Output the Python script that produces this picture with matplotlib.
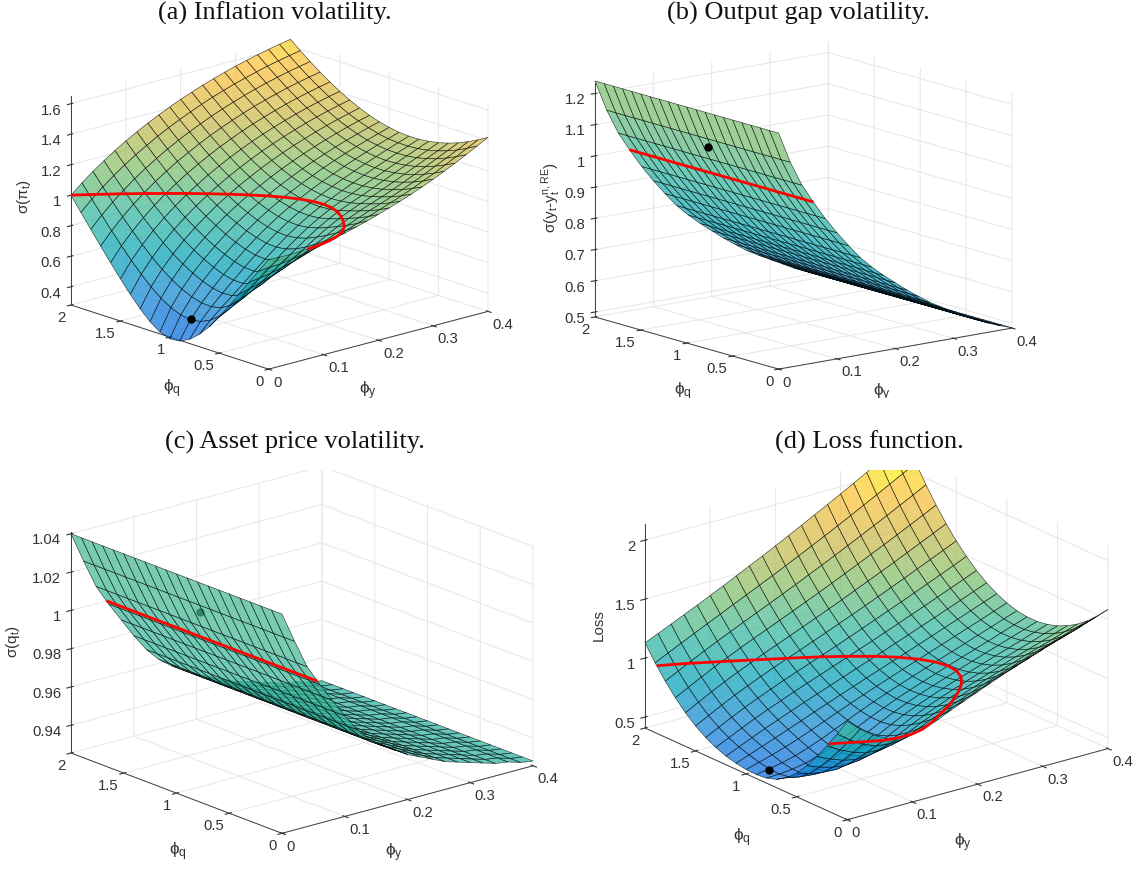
import numpy as np, matplotlib
matplotlib.use('Agg')
import matplotlib.pyplot as plt
from matplotlib.colors import LinearSegmentedColormap
from matplotlib.patches import Rectangle
from matplotlib.transforms import ScaledTranslation
from mpl_toolkits.mplot3d import proj3d

phi_y = [0, .02, .04, .06, .08, .1, .12, .14, .16, .18, .2, .22, .24, .26, .28, .3, .32, .34, .36, .38, .4]
phi_q = [0, .1, .2, .3, .4, .5, .6, .7, .8, .9, 1, 1.1, 1.2, 1.3, 1.4, 1.5, 1.6, 1.7, 1.8, 1.9, 2]

# inflation volatility x 1000: rows phi_q, columns phi_y
inflation_vol = [
 [998,995,994,997,1003,1013,1026,1042,1061,1082,1105,1129,1154,1181,1210,1241,1274,1309,1345,1383,1421],
 [903,907,913,922,935,951,970,992,1018,1044,1070,1096,1122,1149,1178,1209,1241,1276,1311,1347,1384],
 [807,817,830,846,866,890,917,947,979,1011,1041,1069,1095,1122,1150,1181,1213,1247,1281,1315,1351],
 [709,727,747,771,798,830,866,904,943,981,1016,1046,1073,1100,1128,1158,1190,1222,1255,1289,1322],
 [611,637,666,697,734,774,818,864,910,954,992,1025,1054,1081,1110,1140,1171,1203,1235,1267,1299],
 [517,555,592,633,678,727,779,831,882,930,971,1007,1038,1067,1097,1128,1159,1190,1220,1251,1281],
 [432,485,535,585,638,695,752,809,863,913,956,994,1028,1059,1090,1121,1151,1182,1211,1240,1269],
 [361,435,498,558,619,680,741,800,855,905,950,989,1024,1057,1089,1120,1150,1179,1208,1235,1262],
 [307,405,483,553,619,684,746,805,859,909,953,992,1029,1063,1095,1125,1155,1183,1210,1236,1261],
 [275,396,487,565,635,701,763,821,873,921,965,1004,1041,1074,1106,1136,1165,1192,1218,1242,1265],
 [269,406,506,589,662,728,788,844,895,942,984,1023,1059,1092,1124,1153,1181,1207,1231,1254,1276],
 [292,433,536,621,694,760,820,874,923,968,1010,1048,1083,1116,1147,1175,1202,1227,1250,1272,1292],
 [339,474,576,660,733,797,856,908,956,1001,1041,1078,1113,1145,1175,1202,1228,1252,1274,1295,1313],
 [402,527,624,706,777,840,896,948,995,1038,1077,1114,1148,1179,1208,1234,1259,1282,1303,1322,1340],
 [476,589,680,758,827,887,942,992,1038,1080,1118,1154,1187,1217,1245,1271,1295,1317,1337,1355,1372],
 [557,658,743,817,882,940,993,1041,1086,1126,1164,1198,1230,1259,1286,1311,1334,1355,1374,1392,1407],
 [641,733,811,880,942,998,1048,1095,1137,1176,1213,1246,1277,1305,1331,1355,1378,1398,1416,1433,1448],
 [729,811,883,948,1006,1059,1107,1152,1192,1230,1265,1297,1327,1354,1380,1403,1424,1444,1461,1477,1492],
 [818,892,959,1019,1074,1124,1169,1212,1251,1287,1320,1351,1380,1406,1431,1453,1474,1493,1510,1525,1539],
 [908,976,1037,1093,1144,1191,1234,1275,1312,1346,1378,1408,1436,1461,1485,1506,1526,1545,1561,1576,1590],
 [1000,1062,1118,1169,1217,1261,1302,1340,1375,1408,1439,1467,1494,1518,1541,1562,1581,1599,1615,1630,1643],
]
# loss function x 1000: rows phi_q, columns phi_y
loss_values = [
 [1242,1146,1065,1005,985,986,1007,1048,1098,1144,1190,1235,1280,1320,1360,1400,1440,1475,1510,1550,1587],
 [1094,1015,950,903,892,898,923,964,1014,1059,1104,1148,1192,1231,1270,1309,1348,1383,1418,1457,1494],
 [956,892,841,806,802,816,845,889,939,985,1029,1072,1115,1154,1192,1231,1269,1304,1339,1377,1414],
 [827,776,735,711,716,737,772,820,872,919,964,1008,1050,1089,1127,1165,1203,1238,1273,1311,1347],
 [710,668,637,623,635,664,707,759,815,865,911,955,997,1035,1073,1111,1149,1184,1220,1257,1294],
 [608,576,554,548,568,604,653,711,769,821,869,913,955,994,1032,1070,1108,1143,1179,1217,1253],
 [529,507,495,498,524,566,619,679,738,792,840,884,926,965,1003,1041,1079,1115,1152,1190,1227],
 [477,467,466,478,509,553,607,666,724,776,824,868,909,948,987,1025,1063,1100,1137,1175,1213],
 [449,453,464,485,519,564,616,671,725,774,820,863,904,943,982,1021,1059,1097,1136,1175,1213],
 [440,459,481,510,548,591,640,690,739,785,829,870,911,951,990,1029,1068,1108,1147,1187,1226],
 [444,475,508,544,584,627,672,718,763,806,848,889,930,970,1010,1050,1090,1131,1171,1212,1253],
 [458,499,540,582,624,667,711,753,796,837,879,920,960,1001,1042,1083,1125,1166,1208,1250,1293],
 [480,528,576,623,667,711,754,796,837,878,920,961,1002,1044,1086,1129,1171,1215,1258,1302,1346],
 [514,567,619,669,716,761,805,847,888,930,972,1014,1056,1099,1143,1187,1231,1276,1321,1366,1412],
 [560,616,671,724,773,819,864,907,949,991,1034,1078,1122,1167,1212,1257,1303,1350,1397,1444,1492],
 [619,677,734,789,839,887,933,977,1020,1064,1109,1154,1199,1246,1293,1340,1388,1437,1486,1535,1585],
 [692,751,809,864,915,964,1012,1057,1102,1148,1194,1241,1288,1337,1386,1435,1485,1536,1588,1639,1691],
 [780,838,895,951,1002,1053,1101,1148,1195,1243,1291,1340,1389,1440,1491,1543,1595,1648,1702,1756,1811],
 [882,938,994,1048,1100,1151,1201,1250,1299,1349,1399,1451,1502,1555,1609,1663,1718,1773,1830,1886,1944],
 [999,1052,1105,1157,1209,1260,1312,1363,1414,1466,1519,1573,1627,1682,1738,1795,1853,1911,1970,2030,2090],
 [1130,1178,1228,1278,1328,1380,1432,1486,1540,1594,1650,1706,1764,1822,1880,1940,2000,2062,2124,2186,2250],
]
# these two do not change with phi_q: one value per phi_y
output_gap_vol = [1.24,1.14,1.06,.998,.94,.888,.84,.795,.758,.725,.695,.665,.638,.612,.59,.57,.55,.53,.513,.498,.485]
asset_price_vol = [1.04,1.024,1.009,.998,.988,.978,.969,.962,.957,.953,.949,.946,.943,.94,.938,.936,.934,.932,.931,.929,.928]

x_ticks = [0, .1, .2, .3, .4]
x_tick_labels = ['0', '0.1', '0.2', '0.3', '0.4']
y_ticks = [0, .5, 1, 1.5, 2]
y_tick_labels = ['0', '0.5', '1', '1.5', '2']
optimum_q, optimum_y = .85, .012

plt.rcParams['font.family'] = ['Liberation Sans', 'DejaVu Sans']
plt.rcParams['mathtext.fontset'] = 'dejavusans'
plt.rcParams['mathtext.default'] = 'regular'
W, H = 1145, 873
Y, Q = np.meshgrid(phi_y, phi_q)
parula = LinearSegmentedColormap.from_list('parula', [(0,(.208,.166,.529)),(.125,(.012,.388,.882)),(.25,(.078,.52,.831)),(.375,(.024,.64,.72)),(.5,(.21,.72,.62)),(.625,(.5,.75,.42)),(.75,(.8,.73,.3)),(.875,(.99,.75,.22)),(1,(.976,.984,.055))])
fig = plt.figure(figsize=(W/100, H/100), dpi=100)
TC = (.2, .2, .2)

def panel(Z, elev, azim, r, zl, zt, ztl, zlab, L, R, vm, dot_z, labs, lev=1.0, dotbelow=False):
    ax = fig.add_axes([.1,.1,.4,.4], projection='3d', computed_zorder=False)
    ax.set_proj_type('ortho')
    ax.plot_surface(Y, Q, Z, cmap=parula, vmin=vm[0], vmax=vm[1], rstride=1, cstride=1, alpha=.72,
                    edgecolor='k', linewidth=.45, shade=False, zorder=2)
    ax.contour(Y, Q, Z, levels=[lev], colors='red', linewidths=2.0, zorder=3)
    ax.plot([optimum_y], [optimum_q], [dot_z], 'o', color='k', ms=5, zorder=1 if dotbelow else 4)
    ax.set_xlim(0, .4); ax.set_ylim(0, 2); ax.set_zlim(*zl)
    ax.set_xticks(x_ticks, x_tick_labels)
    ax.set_yticks(y_ticks, y_tick_labels)
    ax.set_zticks(zt, ztl)
    ax.view_init(elev=elev, azim=azim)
    ax.set_box_aspect((1, 1, r))
    ax.patch.set_alpha(0)
    for a in (ax.xaxis, ax.yaxis, ax.zaxis):
        a.set_pane_color((1,1,1,0)); a.pane.set_edgecolor((1,1,1,0))
        a._axinfo['grid'].update(color=(.9,.9,.9), linewidth=.7)
        a.line.set_color((.25,.25,.25)); a.line.set_linewidth(.7)
        a.set_tick_params(labelsize=10.7, colors=TC, width=.6, pad=-4)
    for a, ha, dx in ((ax.xaxis,'left',9), (ax.yaxis,'right',-10), (ax.zaxis,'right',2)):
        for t in a.get_major_ticks():
            t.label1.set_horizontalalignment(ha)
            t.label1.set_transform(ax.transData + ScaledTranslation(dx/100, 0, fig.dpi_scale_trans))
    pos = [.1,.1,.4,.4]
    def px(p):
        x, y, _ = proj3d.proj_transform(*p, ax.get_proj())
        return ax.transData.transform((x, y))
    pL = (0, 2, zl[0]); pR = (.4, 0, zl[0])
    for _ in range(3):
        ax.set_position(pos); ax.apply_aspect()
        a, b = px(pL), px(pR)
        s = (R[0]-L[0])/(b[0]-a[0])
        pos = [pos[0], pos[1], pos[2]*s, pos[3]*s]
        ax.set_position(pos); ax.apply_aspect()
        a, b = px(pL), px(pR)
        pos = [pos[0]+(L[0]-a[0])/W, pos[1]+((H-L[1])-a[1])/H, pos[2], pos[3]]
    ax.set_position(pos)
    T = fig.transFigure
    ax.text2D(labs[0][0]/W, 1-labs[0][1]/H, r'$\phi_q$', transform=T, fontsize=12.5, color=TC, ha='center', va='center')
    ax.text2D(labs[1][0]/W, 1-labs[1][1]/H, r'$\phi_y$', transform=T, fontsize=12.5, color=TC, ha='center', va='center')
    ax.text2D(labs[2][0]/W, 1-labs[2][1]/H, zlab, transform=T, fontsize=11, color=TC, ha='center', va='center', rotation=90)
    return ax

panel(np.array(inflation_vol)/1000, 17, -132, .74, (.28,1.65), [.4,.6,.8,1,1.2,1.4,1.6], ['0.4','0.6','0.8','1','1.2','1.4','1.6'],
      r'$\sigma(\pi_t)$', (71,305), (488,311), (.04,1.77), .42, [(172,389),(368,391),(24,197)])
panel(np.tile(output_gap_vol,(21,1)), 12.9, -128.2, .81, (.484,1.235), [.5,.6,.7,.8,.9,1,1.1,1.2], ['0.5','0.6','0.7','0.8','0.9','1','1.1','1.2'],
      r'$\sigma(y_t$-$y_t^{n,RE})$', (595,317), (1012,328), (.05,1.9), 1.12, [(683,392),(882,393),(551,198)])
panel(np.tile(asset_price_vol,(21,1)), 18.66, -130.06, .71, (.9255,1.0407), [.94,.96,.98,1,1.02,1.04], ['0.94','0.96','0.98','1','1.02','1.04'],
      r'$\sigma(q_t)$', (71,753), (533,767), (.05,1.9), 1.022, [(178,852),(394,853),(13,642)], dotbelow=True)
panel(np.array(loss_values)/1000, 20.6, -127.8, .66, (.407,2.136), [.5,1,1.5,2], ['0.5','1','1.5','2'],
      'Loss', (645,728), (1108,749), (.12,2.15), .48, [(742,838),(963,843),(599,625)], lev=.98)

fig.add_artist(Rectangle((0,(H-470)/H), 1, 72/H, transform=fig.transFigure, fc='w', ec='none', zorder=5))
for t, x, y in [('(a) Inflation volatility.',275,13), ('(b) Output gap volatility.',798,13), ('(c) Asset price volatility.',295,442), ('(d) Loss function.',869,442)]:
    fig.text(x/W, 1-y/H, t, ha='center', va='center', fontsize=19, family=['Liberation Serif'], color='#111', zorder=10)
fig.savefig('out.png', dpi=100)
